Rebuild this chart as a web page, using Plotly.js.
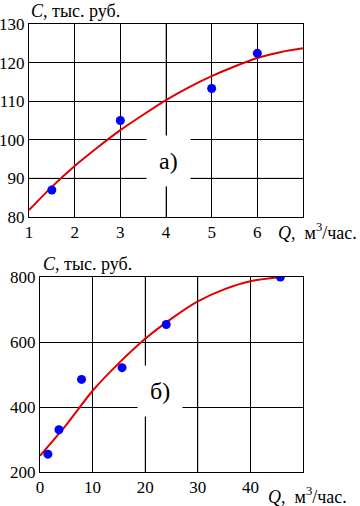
<!DOCTYPE html>
<html><head><meta charset="utf-8">
<script src="https://cdn.plot.ly/plotly-3.0.1.min.js"></script>
<style>html,body{margin:0;padding:0;background:#fff}#c{width:360px;height:506px}</style>
</head><body><div id="c"></div>
<script>
// Chart a) data
const aPointsQ = [1.5, 3, 5, 6];
const aPointsC = [87, 105, 113.3, 122.4];
const aCurveQ = [1, 1.5, 2, 2.5, 3, 3.5, 4, 4.5, 5, 5.5, 6, 6.5, 7];
const aCurveC = [81.8, 87.8, 93.2, 98, 102.5, 106.5, 110.3, 113.6, 116.5, 119, 121.2, 122.7, 123.7];
const aXTicks = [1, 2, 3, 4, 5, 6];
const aYTicks = [80, 90, 100, 110, 120, 130];

// Chart б) data
const bPointsQ = [1.5, 3.6, 7.9, 15.6, 24, 45.7];
const bPointsC = [255, 330, 485, 521, 654, 800];
const bCurveQ = [0, 5, 10, 15, 20, 25, 30, 35, 40, 45.7];
const bCurveC = [250, 345, 450, 535, 610, 672, 725, 762, 787, 800];
const bXTicks = [0, 10, 20, 30, 40];
const bYTicks = [200, 400, 600, 800];

const yTitle = '<i>C</i>, тыс. руб.';
const xTitle = '<i>Q</i>,  м<sup>3</sup>/час.';
const labelA = 'а)';
const labelB = 'б)';

const FAM = 'Liberation Serif';
function fnt(size) { return {family: FAM, size: size, color: '#000'}; }
function line() { return {color: '#e00000', width: 2, shape: 'spline', smoothing: 0.8}; }
function mk() { return {color: '#0000ff', size: 9}; }

const traces = [
  {x: aCurveQ, y: aCurveC, mode: 'lines', line: line(), xaxis: 'x', yaxis: 'y', hoverinfo: 'skip'},
  {x: aPointsQ, y: aPointsC, mode: 'markers', marker: mk(), xaxis: 'x', yaxis: 'y'},
  {x: bCurveQ, y: bCurveC, mode: 'lines', line: line(), xaxis: 'x2', yaxis: 'y2', hoverinfo: 'skip'},
  {x: bPointsQ, y: bPointsC, mode: 'markers', marker: mk(), xaxis: 'x2', yaxis: 'y2'}
];

function ax(extra) {
  return Object.assign({showgrid: true, gridcolor: '#000', gridwidth: 1, zeroline: false,
    showline: true, linecolor: '#000', linewidth: 1, mirror: true, ticks: '',
    tickfont: fnt(17), fixedrange: true}, extra);
}

function gray() { return {color: '#808080', width: 1.2}; }
const layout = {
  width: 360, height: 506, showlegend: false,
  margin: {l: 0, r: 0, t: 0, b: 0},
  paper_bgcolor: '#fff', plot_bgcolor: '#fff', font: fnt(18),
  xaxis: ax({domain: [29/360, 303/360], range: [1, 7], tickvals: aXTicks, anchor: 'y'}),
  yaxis: ax({domain: [1-217/506, 1-24/506], range: [80, 130], tickvals: aYTicks, anchor: 'x'}),
  xaxis2: ax({domain: [40/360, 303/360], range: [0, 50], tickvals: bXTicks, anchor: 'y2'}),
  yaxis2: ax({domain: [1-472/506, 1-277/506], range: [200, 800], tickvals: bYTicks, anchor: 'x2'}),
  shapes: [
    {type: 'line', xref: 'x', yref: 'y', x0: 4, x1: 4, y0: 80, y1: 130, line: gray(), layer: 'below'},
    {type: 'line', xref: 'x', yref: 'y', x0: 1, x1: 7, y0: 90, y1: 90, line: gray(), layer: 'below'},
    {type: 'line', xref: 'x2', yref: 'y2', x0: 20, x1: 20, y0: 200, y1: 800, line: gray(), layer: 'below'},
    {type: 'line', xref: 'x2', yref: 'y2', x0: 30, x1: 30, y0: 200, y1: 800, line: gray(), layer: 'below'}
  ],
  annotations: [
    {xref: 'paper', yref: 'paper', x: 29/360, y: 1-11/506, text: yTitle, showarrow: false, xanchor: 'left', yanchor: 'middle', font: fnt(18)},
    {xref: 'paper', yref: 'paper', x: 359/360, y: 1-231/506, text: xTitle, showarrow: false, xanchor: 'right', yanchor: 'middle', font: fnt(18)},
    {xref: 'x', yref: 'y', x: 4.05, y: 94.5, text: labelA, showarrow: false, bgcolor: '#fff', borderpad: 12, font: fnt(24)},
    {xref: 'paper', yref: 'paper', x: 41/360, y: 1-264/506, text: yTitle, showarrow: false, xanchor: 'left', yanchor: 'middle', font: fnt(18)},
    {xref: 'paper', yref: 'paper', x: 349/360, y: 1-495/506, text: xTitle, showarrow: false, xanchor: 'right', yanchor: 'middle', font: fnt(18)},
    {xref: 'x2', yref: 'y2', x: 22.8, y: 450, text: labelB, showarrow: false, bgcolor: '#fff', borderpad: 12, font: fnt(24)}
  ]
};

Plotly.newPlot('c', traces, layout, {displayModeBar: false});
</script></body></html>
